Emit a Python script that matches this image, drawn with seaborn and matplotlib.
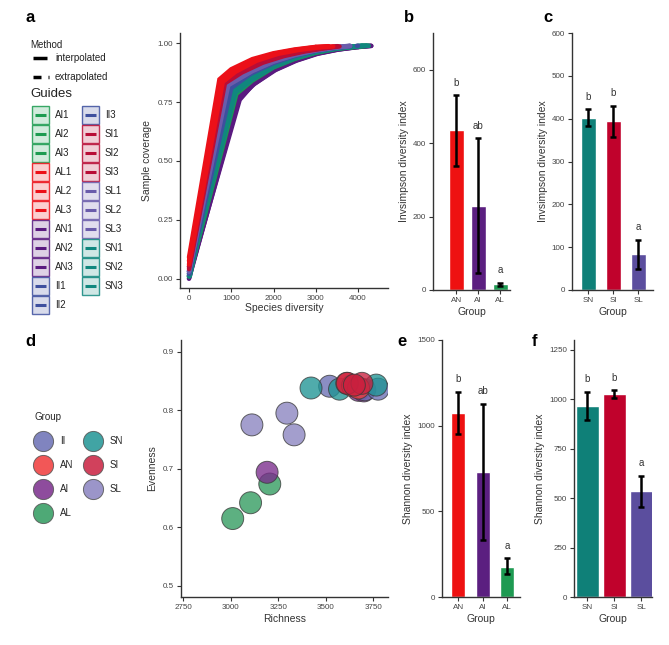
import numpy as np
import pandas as pd
import matplotlib
matplotlib.use("Agg")
import matplotlib.pyplot as plt
from matplotlib.patches import Rectangle
from matplotlib.lines import Line2D
import seaborn as sns

sns.set_style("ticks")
plt.rcParams['font.family'] = ['Liberation Sans', 'DejaVu Sans']

W, H = 669, 645

# ---------------- data ----------------
# panel a: coverage curves (x = species diversity, y = sample coverage)
curve_x = {
    'AN1': [0, 1150, 1500, 2000, 2500, 3000, 3500, 4000, 4400],
    'AN2': [0, 1200, 1500, 2000, 2500, 3000, 3500, 4000, 4350],
    'AN3': [0, 1180, 1550, 2050, 2550, 3050, 3550, 4000, 4300],
    'AI1': [0, 1100, 1500, 2000, 2500, 3000, 3500, 4000, 4200],
    'AI2': [0, 1080, 1500, 2000, 2500, 3000, 3500, 4000, 4150],
    'AI3': [0, 1120, 1500, 2000, 2500, 3000, 3500, 4000, 4250],
    'SN1': [0, 1050, 1500, 2000, 2500, 3000, 3500, 4000, 4200],
    'SN2': [0, 1100, 1500, 2000, 2500, 3000, 3500, 4000, 4250],
    'SN3': [20, 1000, 1500, 2000, 2500, 3000, 3500, 4000, 4100],
    'II1': [0, 950, 1500, 2000, 2500, 3000, 3500, 3900],
    'II2': [0, 980, 1500, 2000, 2500, 3000, 3500, 4000],
    'II3': [0, 1000, 1450, 2000, 2500, 3000, 3500, 3950],
    'SL1': [0, 880, 1500, 2000, 2500, 3000, 3500, 3800],
    'SL2': [0, 900, 1500, 2000, 2500, 3000, 3500, 3850],
    'SL3': [0, 930, 1500, 2000, 2500, 3000, 3500, 3900],
    'SI1': [0, 820, 1200, 1700, 2200, 2700, 3200, 3600],
    'SI2': [0, 850, 1250, 1750, 2250, 2750, 3250, 3650],
    'SI3': [0, 830, 1200, 1700, 2200, 2700, 3200, 3550],
    'AL1': [0, 720, 1000, 1500, 2000, 2500, 3000, 3300],
    'AL2': [0, 760, 1050, 1500, 2000, 2500, 3000, 3400],
    'AL3': [0, 800, 1100, 1600, 2100, 2600, 3100, 3500],
}
curve_y = {
    'AN1': [0.00, 0.770, 0.828, 0.887, 0.927, 0.956, 0.974, 0.985, 0.990],
    'AN2': [0.01, 0.760, 0.822, 0.884, 0.925, 0.955, 0.973, 0.984, 0.990],
    'AN3': [0.00, 0.765, 0.828, 0.887, 0.927, 0.956, 0.974, 0.985, 0.990],
    'AI1': [0.01, 0.790, 0.845, 0.900, 0.936, 0.962, 0.978, 0.987, 0.990],
    'AI2': [0.01, 0.795, 0.848, 0.902, 0.938, 0.963, 0.979, 0.988, 0.990],
    'AI3': [0.01, 0.785, 0.842, 0.898, 0.934, 0.960, 0.977, 0.986, 0.990],
    'SN1': [0.01, 0.800, 0.852, 0.904, 0.940, 0.964, 0.979, 0.988, 0.991],
    'SN2': [0.02, 0.790, 0.846, 0.900, 0.936, 0.962, 0.978, 0.987, 0.990],
    'SN3': [0.01, 0.805, 0.858, 0.908, 0.942, 0.966, 0.980, 0.989, 0.991],
    'II1': [0.02, 0.820, 0.880, 0.920, 0.950, 0.970, 0.983, 0.990],
    'II2': [0.02, 0.815, 0.876, 0.918, 0.948, 0.969, 0.982, 0.990],
    'II3': [0.03, 0.810, 0.870, 0.916, 0.947, 0.968, 0.982, 0.990],
    'SL1': [0.03, 0.830, 0.888, 0.926, 0.953, 0.972, 0.984, 0.990],
    'SL2': [0.03, 0.825, 0.885, 0.924, 0.952, 0.971, 0.983, 0.990],
    'SL3': [0.03, 0.822, 0.882, 0.922, 0.950, 0.970, 0.983, 0.990],
    'SI1': [0.05, 0.835, 0.880, 0.920, 0.948, 0.967, 0.981, 0.989],
    'SI2': [0.04, 0.830, 0.876, 0.918, 0.946, 0.966, 0.980, 0.989],
    'SI3': [0.05, 0.833, 0.879, 0.920, 0.948, 0.967, 0.981, 0.989],
    'AL1': [0.09, 0.847, 0.890, 0.933, 0.958, 0.974, 0.985, 0.988],
    'AL2': [0.075, 0.842, 0.884, 0.928, 0.955, 0.972, 0.984, 0.988],
    'AL3': [0.06, 0.836, 0.879, 0.926, 0.955, 0.972, 0.983, 0.988],
}
guide_names = ['AI1', 'AI2', 'AI3', 'AL1', 'AL2', 'AL3', 'AN1', 'AN2', 'AN3',
               'II1', 'II2', 'II3', 'SI1', 'SI2', 'SI3', 'SL1', 'SL2', 'SL3',
               'SN1', 'SN2', 'SN3']
guide_colors = {'AI': '#1c9b50', 'AL': '#ec1018', 'AN': '#5a1a80', 'II': '#3d4f9e',
                'SI': '#b80d36', 'SL': '#6a5cab', 'SN': '#10877e'}
draw_order = ['AN1', 'AN2', 'AN3', 'AI1', 'AI2', 'AI3', 'SN1', 'SN2', 'SN3',
              'II1', 'II2', 'II3', 'SL1', 'SL2', 'SL3', 'SI1', 'SI2', 'SI3',
              'AL1', 'AL2', 'AL3']

# panel b
b_groups = ['AN', 'AI', 'AL']
b_values = [435, 230, 15]
b_err_lo = [338, 45, 10]
b_err_hi = [530, 413, 20]
b_letters = ['b', 'ab', 'a']
b_colors = ['#ee1111', '#5b1f80', '#1e9a52']

# panel c
c_groups = ['SN', 'SI', 'SL']
c_values = [402, 395, 83]
c_err_lo = [382, 358, 50]
c_err_hi = [422, 430, 117]
c_letters = ['b', 'b', 'a']
c_colors = ['#0f8078', '#c0022c', '#5b4e9e']

# panel d
d_group = ['SL', 'SL', 'SL', 'AL', 'AL', 'AL', 'AI', 'AI', 'AI', 'II', 'II', 'II',
           'SN', 'SN', 'SN', 'AN', 'AN', 'AN', 'SI', 'SI', 'SI']
d_richness = [3111, 3295, 3333, 3010, 3104, 3205, 3191, 3672, 3700, 3520, 3705, 3775,
              3422, 3572, 3765, 3610, 3640, 3672, 3613, 3690, 3650]
d_evenness = [0.775, 0.795, 0.758, 0.615, 0.642, 0.674, 0.694, 0.834, 0.833, 0.841, 0.835, 0.836,
              0.838, 0.836, 0.843, 0.846, 0.842, 0.838, 0.846, 0.846, 0.843]
d_order = ['II', 'AN', 'AI', 'AL', 'SN', 'SI', 'SL']
d_colors = ['#6a6fb4', '#f03a3a', '#7a2c8c', '#2f9a5e', '#1f9494', '#c9203f', '#8a83c0']

# panel e
e_groups = ['AN', 'AI', 'AL']
e_values = [1075, 727, 175]
e_err_lo = [954, 331, 133]
e_err_hi = [1196, 1126, 226]
e_letters = ['b', 'ab', 'a']

# panel f
f_groups = ['SN', 'SI', 'SL']
f_values = [965, 1025, 535]
f_err_lo = [895, 1005, 455]
f_err_hi = [1038, 1045, 613]
f_letters = ['b', 'b', 'a']

# ---------------- figure ----------------
fig = plt.figure(figsize=(W / 100, H / 100), dpi=100)


def add_ax(l, t, r, b):
    return fig.add_axes([l / W, 1 - b / H, (r - l) / W, (b - t) / H])


TICK_FS = 5.8
LAB_FS = 7.5
SPINE_C = '#333333'


def style(ax):
    sns.despine(ax=ax)
    for s in ['left', 'bottom']:
        ax.spines[s].set_color(SPINE_C)
        ax.spines[s].set_linewidth(1.0)
    ax.tick_params(axis='both', labelsize=TICK_FS, colors=SPINE_C, length=3,
                   width=0.8, labelcolor='#444444', pad=2)
    ax.xaxis.label.set_size(LAB_FS)
    ax.yaxis.label.set_size(LAB_FS)
    ax.xaxis.label.set_color('#333333')
    ax.yaxis.label.set_color('#333333')


# ---- panel a ----
axa = add_ax(180, 33, 388, 288)
for g in draw_order:
    xs, ys = curve_x[g], curve_y[g]
    col = guide_colors[g[:2]]
    axa.plot(xs[:-1], ys[:-1], color=col, lw=3.2, solid_capstyle='round',
             solid_joinstyle='miter')
    axa.plot(xs[-2:], ys[-2:], color=col, lw=3.2, ls=(0, (3, 1.5)),
             dash_capstyle='round')
axa.set_xlim(-213, 4710)
axa.set_ylim(-0.04, 1.044)
axa.set_xticks([0, 1000, 2000, 3000, 4000])
axa.set_yticks([0, 0.25, 0.5, 0.75, 1.0])
axa.set_yticklabels(['0.00', '0.25', '0.50', '0.75', '1.00'])
axa.set_xlabel('Species diversity', labelpad=1)
axa.set_ylabel('Sample coverage', labelpad=4)
style(axa)


def bar_panel(ax, groups, values, lo, hi, letters, colors, ymax, yticks, ylabel, width, xlim):
    df = pd.DataFrame({'Group': groups, 'value': values})
    sns.barplot(data=df, x='Group', y='value', hue='Group', palette=colors,
                order=groups, hue_order=groups, errorbar=None, width=width,
                legend=False, ax=ax, saturation=1)
    xs = np.arange(len(groups))
    vals = np.array(values)
    ax.errorbar(xs, vals, yerr=[vals - np.array(lo), np.array(hi) - vals], fmt='none',
                ecolor='black', elinewidth=1.8, capsize=2.5, capthick=1.8)
    for x, h, t in zip(xs, hi, letters):
        ax.text(x, h + ymax * 0.03, t, ha='center', va='bottom', fontsize=7,
                color='#333333')
    ax.set_ylim(0, ymax)
    ax.set_yticks(yticks)
    ax.set_xlim(*xlim)
    ax.set_xlabel('Group', labelpad=2)
    ax.set_ylabel(ylabel, labelpad=3)
    style(ax)


axb = add_ax(433, 33, 510, 290)
bar_panel(axb, b_groups, b_values, b_err_lo, b_err_hi, b_letters, b_colors,
          700, [0, 200, 400, 600], 'Invsimpson diversity index', 0.68, (-1.05, 2.45))

axc = add_ax(572, 33, 653, 290)
bar_panel(axc, c_groups, c_values, c_err_lo, c_err_hi, c_letters, c_colors,
          600, [0, 100, 200, 300, 400, 500, 600], 'Invsimpson diversity index', 0.6, (-0.64, 2.6))

axe = add_ax(442, 340, 520, 597)
bar_panel(axe, e_groups, e_values, e_err_lo, e_err_hi, e_letters, b_colors,
          1500, [0, 500, 1000, 1500], 'Shannon diversity index', 0.58, (-0.67, 2.53))

axf = add_ax(574, 340, 652, 597)
bar_panel(axf, f_groups, f_values, f_err_lo, f_err_hi, f_letters, c_colors,
          1300, [0, 250, 500, 750, 1000, 1250], 'Shannon diversity index', 0.85, (-0.5, 2.4))

# ---- panel d ----
axd = add_ax(181, 340, 388, 597)
dfd = pd.DataFrame({'Group': d_group, 'Richness': d_richness, 'Evenness': d_evenness})
sns.scatterplot(data=dfd, x='Richness', y='Evenness', hue='Group', hue_order=d_order,
                palette=d_colors, s=250, alpha=0.78, edgecolor='#3a3a3a', linewidth=0.7,
                legend=False, ax=axd)
axd.set_xlim(2738, 3827)
axd.set_ylim(0.481, 0.92)
axd.set_xticks([2750, 3000, 3250, 3500, 3750])
axd.set_yticks([0.5, 0.6, 0.7, 0.8, 0.9])
axd.set_xlabel('Richness', labelpad=2)
axd.set_ylabel('Evenness', labelpad=4)
style(axd)

handles = [Line2D([], [], ls='none', marker='o', markersize=14.5, markerfacecolor=c,
                  markeredgecolor='#555555', markeredgewidth=0.7, alpha=0.85)
           for c in d_colors]
leg = fig.legend(handles, d_order, title='Group', loc='upper left',
                 bbox_to_anchor=(31 / W, 1 - 408 / H), bbox_transform=fig.transFigure,
                 ncol=2, frameon=False, fontsize=7, title_fontsize=7,
                 labelspacing=1.45, handletextpad=1.0, columnspacing=1.15,
                 handlelength=1.6, borderaxespad=0)
leg._legend_box.align = 'left'

# ---- legend for panel a (drawn in pixel space) ----
ov = fig.add_axes([0, 0, 1, 1])
ov.set_xlim(0, W)
ov.set_ylim(H, 0)
ov.axis('off')
ov.text(30, 45, 'Method', fontsize=7, va='center', ha='left', color='#222222')
ov.plot([33, 47], [58, 58], color='black', lw=2.5, solid_capstyle='butt')
ov.text(55, 58, 'interpolated', fontsize=7, va='center', ha='left', color='#222222')
ov.plot([33, 41], [77, 77], color='black', lw=2.5, solid_capstyle='butt')
ov.plot([47.5, 48.5], [77, 77], color='black', lw=2.5, solid_capstyle='butt')
ov.text(55, 77, 'extrapolated', fontsize=7, va='center', ha='left', color='#222222')
ov.text(30, 94, 'Guides', fontsize=9.5, va='center', ha='left', color='#222222')

col_break = 11
for i, g in enumerate(guide_names):
    col = guide_colors[g[:2]]
    if i < col_break:
        bx, row = 32, i
    else:
        bx, row = 82, i - col_break
    cy = 115 + row * 19
    ov.add_patch(Rectangle((bx, cy - 9), 17, 18, facecolor=col, alpha=0.2, lw=0))
    ov.add_patch(Rectangle((bx, cy - 9), 17, 18, facecolor='none', edgecolor=col,
                           lw=1.0, alpha=0.85))
    ov.plot([bx + 3, bx + 14], [cy, cy], color=col, lw=2.2, solid_capstyle='butt')
    ov.text(bx + 23, cy, g, fontsize=7, va='center', ha='left', color='#222222')

# panel letters
for lab, x, y in [('a', 30, 18), ('b', 409, 17), ('c', 548, 17),
                  ('d', 30, 342), ('e', 402, 342), ('f', 534, 342)]:
    ov.text(x, y, lab, fontsize=12, fontweight='bold', ha='center', va='center', color='black')

fig.savefig('out.png', dpi=100)
